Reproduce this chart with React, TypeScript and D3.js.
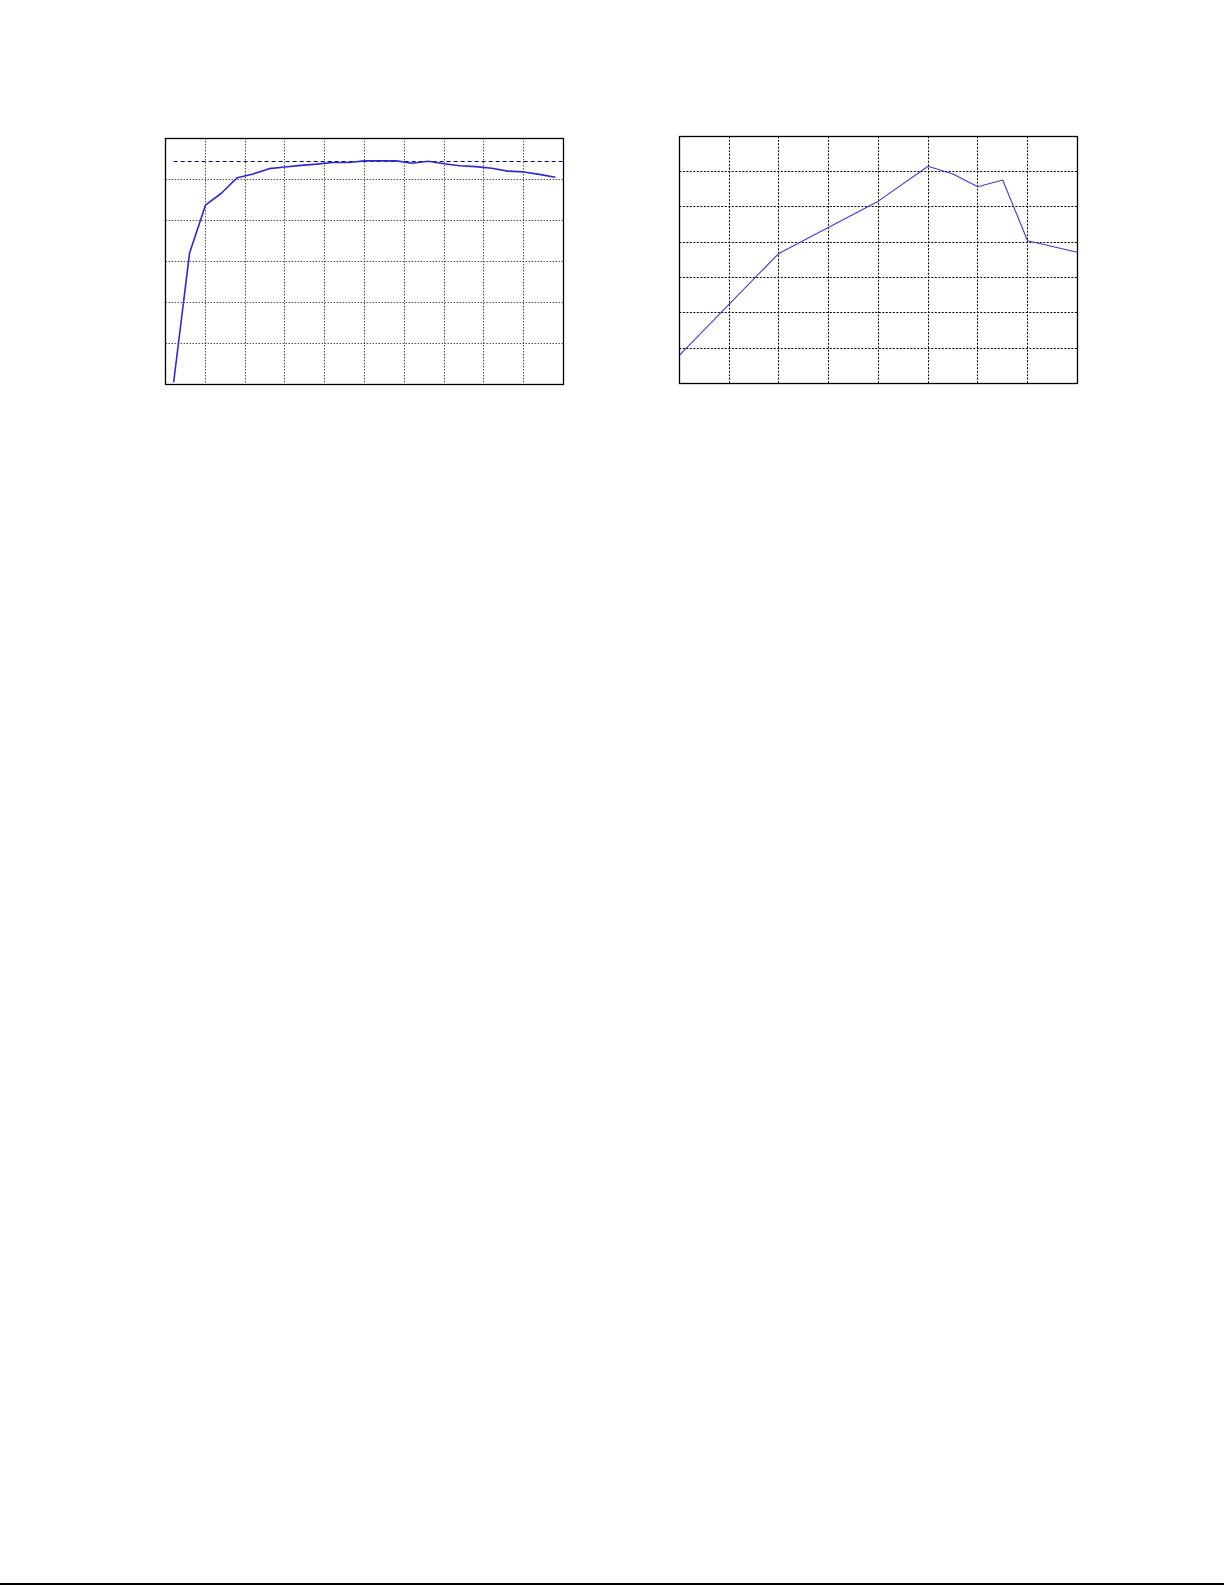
import * as d3 from 'd3';

// left panel: 25 samples on a 10 x 6 grid
const leftX = [
  0.2, 0.6, 1.0, 1.4, 1.8, 2.2, 2.6, 3.0, 3.4, 3.8, 4.2, 4.6, 5.0, 5.4, 5.8, 6.2, 6.6, 7.0, 7.4, 7.8, 8.2,
  8.6, 9.0, 9.4, 9.8,
];
const leftY = [
  0.05, 3.2, 4.37, 4.66, 5.04, 5.13, 5.26, 5.3, 5.34, 5.37, 5.41, 5.41, 5.45, 5.45, 5.45, 5.39, 5.44, 5.38,
  5.33, 5.31, 5.27, 5.2, 5.18, 5.12, 5.05,
];
const leftRef = 5.44;
const leftXTicks = d3.range(0, 11);
const leftYTicks = d3.range(0, 7);

// right panel
const rightX = [0, 2, 4, 5, 5.5, 6, 6.5, 7, 8];
const rightY = [0.79, 3.68, 5.16, 6.15, 5.93, 5.57, 5.76, 4.04, 3.71];
const rightXTicks = d3.range(0, 9);
const rightYTicks = d3.range(0, 8);

type PanelProps = {
  x0: number;
  x1: number;
  y0: number;
  y1: number;
  xTicks: number[];
  yTicks: number[];
  xs: number[];
  ys: number[];
  gridDash: string;
  lineColor: string;
  lineWidth: number;
  refY?: number;
  refStart?: number;
};

// snap to pixel centre so 1px lines stay crisp
const px = (v: number) => Math.round(v - 0.5) + 0.5;

function Panel({ x0, x1, y0, y1, xTicks, yTicks, xs, ys, gridDash, lineColor, lineWidth, refY, refStart }: PanelProps) {
  const x = d3
    .scaleLinear()
    .domain([xTicks[0], xTicks[xTicks.length - 1]])
    .range([x0, x1]);
  const y = d3
    .scaleLinear()
    .domain([yTicks[0], yTicks[yTicks.length - 1]])
    .range([y1, y0]);
  const pts = xs.map((v, i) => [v, ys[i]] as [number, number]);
  const line = d3
    .line<[number, number]>()
    .x((d) => x(d[0]))
    .y((d) => y(d[1]));

  return (
    <g>
      {xTicks.slice(1, -1).map((t) => (
        <line
          key={'gx' + t}
          x1={px(x(t))}
          x2={px(x(t))}
          y1={y0}
          y2={y1}
          stroke="#000"
          strokeWidth={1}
          strokeDasharray={gridDash}
        />
      ))}
      {yTicks.slice(1, -1).map((t) => (
        <line
          key={'gy' + t}
          x1={x0}
          x2={x1}
          y1={px(y(t))}
          y2={px(y(t))}
          stroke="#000"
          strokeWidth={1}
          strokeDasharray={gridDash}
        />
      ))}
      {refY !== undefined && (
        <line
          x1={x(refStart ?? xTicks[0])}
          x2={x1}
          y1={px(y(refY))}
          y2={px(y(refY))}
          stroke="#000080"
          strokeWidth={1.2}
          strokeDasharray="4,3"
        />
      )}
      <path d={line(pts) ?? ''} fill="none" stroke={lineColor} strokeWidth={lineWidth} strokeLinejoin="round" />
      <rect
        x={px(x0)}
        y={px(y0)}
        width={Math.round(x1 - x0)}
        height={Math.round(y1 - y0)}
        fill="none"
        stroke="#000"
        strokeWidth={1.3}
      />
    </g>
  );
}

export default function App() {
  return (
    <div style={{ position: 'absolute', left: 0, top: 0 }}>
      <svg width={1225} height={1585} style={{ display: 'block', background: '#fff' }}>
        <Panel
          x0={165.7}
          x1={563.3}
          y0={138.3}
          y1={384.3}
          xTicks={leftXTicks}
          yTicks={leftYTicks}
          xs={leftX}
          ys={leftY}
          gridDash="1,2"
          lineColor="#2a2ad0"
          lineWidth={1.6}
          refY={leftRef}
          refStart={leftX[0]}
        />
        <Panel
          x0={679.3}
          x1={1077.3}
          y0={136.2}
          y1={383.3}
          xTicks={rightXTicks}
          yTicks={rightYTicks}
          xs={rightX}
          ys={rightY}
          gridDash="2,1.5"
          lineColor="#3a3ad8"
          lineWidth={1.1}
        />
        <line x1={0} x2={1224} y1={1584} y2={1584} stroke="#000" strokeWidth={2} />
      </svg>
    </div>
  );
}
